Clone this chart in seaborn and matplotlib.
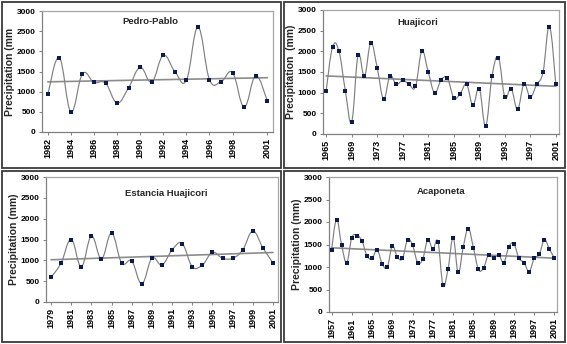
import numpy as np
import pandas as pd
import matplotlib
matplotlib.use("Agg")
import matplotlib.pyplot as plt
from matplotlib.path import Path
from matplotlib.patches import PathPatch, Rectangle
import seaborn as sns

# Annual precipitation (mm) per station
pedro_years = list(range(1982, 2002))
pedro_precip = [930, 1840, 500, 1440, 1230, 1210, 720, 1100, 1600, 1240,
                1900, 1500, 1280, 2600, 1300, 1250, 1470, 620, 1390, 780]
pedro_ticks = [1982, 1984, 1986, 1988, 1990, 1992, 1994, 1996, 1998, 2001]

huaj_years = list(range(1965, 2002))
huaj_precip = [1050, 2100, 2000, 1050, 300, 1900, 1400, 2200, 1600, 850,
               1400, 1200, 1300, 1200, 1150, 2000, 1500, 1000, 1300, 1350,
               880, 970, 1200, 700, 1100, 200, 1400, 1850, 900, 1100,
               600, 1200, 900, 1200, 1500, 2600, 1200]
huaj_ticks = list(range(1965, 2002, 4))

estancia_years = list(range(1979, 2002))
estancia_precip = [590, 940, 1500, 850, 1580, 1040, 1650, 940, 980, 440,
                   1050, 890, 1250, 1400, 850, 890, 1190, 1050, 1050, 1250,
                   1700, 1300, 940]
estancia_ticks = list(range(1979, 2002, 2))

acap_years = list(range(1957, 2002))
acap_precip = [1380, 2050, 1480, 1100, 1650, 1700, 1580, 1250, 1190, 1380,
               1070, 1000, 1460, 1220, 1190, 1600, 1480, 1100, 1180, 1600,
               1400, 1560, 600, 960, 1650, 880, 1450, 1850, 1430, 950,
               980, 1270, 1200, 1270, 1100, 1450, 1510, 1190, 1100, 900,
               1190, 1280, 1600, 1400, 1190]
acap_ticks = list(range(1957, 2002, 4))

y_ticks = [0, 500, 1000, 1500, 2000, 2500, 3000]

stations = [
    ("Pedro-Pablo", pedro_years, pedro_precip, pedro_ticks, "Precipitation (mm"),
    ("Huajicori", huaj_years, huaj_precip, huaj_ticks, "Precipitation  (mm)"),
    ("Estancia Huajicori", estancia_years, estancia_precip, estancia_ticks, "Precipitation (mm)"),
    ("Acaponeta", acap_years, acap_precip, acap_ticks, "Precipitation (mm)"),
]

sns.set_theme(style="white")
plt.rcParams["font.family"] = ["Liberation Sans", "DejaVu Sans"]
plt.rcParams["font.weight"] = "bold"

W, H = 567, 344
fig = plt.figure(figsize=(W / 100, H / 100), dpi=100)
fig.patch.set_facecolor("white")

# pixel boxes: (left, top, right, bottom) for each plot area, and each outer frame
axes_px = [(42, 11, 273, 132), (323, 10, 559, 134),
           (46, 177, 278, 302), (329, 177, 557, 312)]
frames_px = [(2, 2, 281, 168), (284, 2, 565, 168),
             (2, 171, 281, 342), (284, 171, 565, 342)]
title_pos = [(0.47, 0.91), (0.40, 0.90), (0.52, 0.87), (0.49, 0.89)]

for (l, t, r, b) in frames_px:
    fig.patches.append(Rectangle((l / W, 1 - b / H), (r - l) / W, (b - t) / H,
                                 transform=fig.transFigure, fill=False,
                                 edgecolor="#3a3a3a", linewidth=1.3))


def smooth_path(xs, ys, k=0.2):
    """Cubic Bezier path through all points (cardinal-spline smoothing)."""
    pts = np.column_stack([xs, ys]).astype(float)
    n = len(pts)
    verts = [pts[0]]
    codes = [Path.MOVETO]
    for i in range(n - 1):
        p0 = pts[i - 1] if i > 0 else pts[i]
        p1 = pts[i]
        p2 = pts[i + 1]
        p3 = pts[i + 2] if i + 2 < n else pts[i + 1]
        c1 = p1 + (p2 - p0) * k
        c2 = p2 - (p3 - p1) * k
        verts += [c1, c2, p2]
        codes += [Path.CURVE4] * 3
    return Path(verts, codes)


for (name, years, precip, ticks, ylab), (l, t, r, b), tp in zip(stations, axes_px, title_pos):
    ax = fig.add_axes([l / W, 1 - b / H, (r - l) / W, (b - t) / H])
    df = pd.DataFrame({"year": years, "precip": precip})

    ax.add_patch(PathPatch(smooth_path(df["year"], df["precip"]), fill=False,
                           edgecolor="#808080", linewidth=0.85, zorder=2))
    sns.regplot(data=df, x="year", y="precip", ax=ax, scatter=False, ci=None,
                truncate=True, line_kws={"color": "#8c8c8c", "linewidth": 1.2, "zorder": 1})
    sns.scatterplot(data=df, x="year", y="precip", ax=ax, marker="s", s=7,
                    color="#0b1b4d", edgecolor="#0b1b4d", linewidth=0, zorder=3)

    ax.set_xlim(years[0] - 0.5, years[-1] + 0.5)
    ax.set_ylim(0, 3000)
    ax.set_yticks(y_ticks)
    ax.set_yticklabels([str(v) for v in y_ticks], fontsize=6, fontweight="bold")
    ax.set_xticks(ticks)
    ax.set_xticklabels([str(v) for v in ticks], rotation=90, fontsize=6.5, fontweight="bold")
    ax.set_xlabel("")
    ax.set_ylabel(ylab, fontsize=7.5, fontweight="bold", labelpad=1)
    ax.tick_params(axis="both", which="both", direction="out", length=2.5, width=0.7,
                   color="#808080", pad=2, left=True, bottom=True, labelcolor="black")
    for side in ["left", "bottom"]:
        ax.spines[side].set_color("#808080")
        ax.spines[side].set_linewidth(0.9)
    for side in ["top", "right"]:
        ax.spines[side].set_visible(True)
        ax.spines[side].set_color("#a6a6a6")
        ax.spines[side].set_linewidth(0.9)
    ax.grid(False)
    ax.text(tp[0], tp[1], name, transform=ax.transAxes, ha="center", va="center",
            fontsize=6.8, fontweight="bold")

fig.savefig("out.png", dpi=100, facecolor="white")
